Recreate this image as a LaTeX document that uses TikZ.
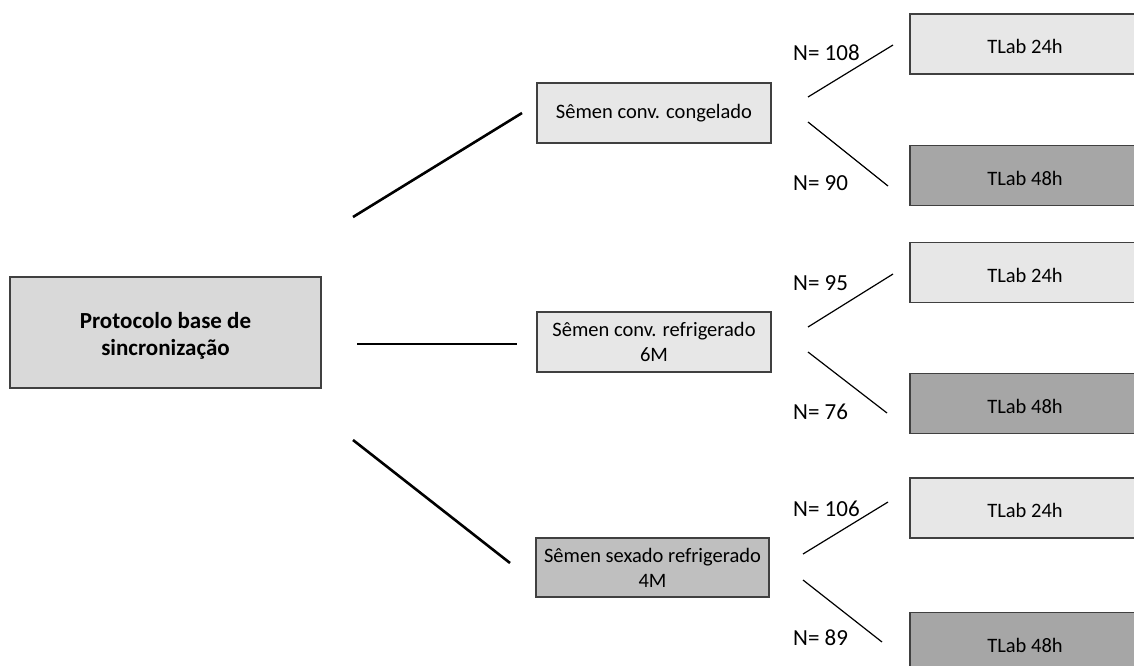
\documentclass[tikz,border=0pt]{standalone}
\usepackage{fontspec}
\setmainfont{Carlito}
\usepackage{xcolor}
\usetikzlibrary{positioning}

\definecolor{boxline}{HTML}{404040}
\definecolor{protofill}{HTML}{D9D9D9}
\definecolor{lightfill}{HTML}{E7E7E7}
\definecolor{midfill}{HTML}{BFBFBF}
\definecolor{darkfill}{HTML}{A6A6A6}

\begin{document}
\begin{tikzpicture}[x=1pt,y=-1pt,
		box/.style={draw=boxline,line width=1.3pt,inner sep=0pt,align=center,font=\fontsize{20.5}{25}\selectfont},
		semenbox/.style={box,minimum width=234pt,minimum height=60pt},
		tlabbox/.style={box,minimum width=230pt,minimum height=60pt,text height=19pt,text depth=0pt},
		thickline/.style={line width=2.6pt},
		thinline/.style={line width=1.2pt},
		nlabel/.style={anchor=west,inner sep=0pt,font=\fontsize{23}{27}\selectfont}]
		\useasboundingbox (0,0) rectangle (1134,665);
		\clip (0,0) rectangle (1134,665);
		
		% protocolo
		\node[box,fill=protofill,minimum width=311pt,minimum height=111pt,font=\fontsize{23}{27}\selectfont\bfseries] (proto) at (165.5,332.5) {};
		\node[inner sep=0pt,align=center,font=\fontsize{23}{27}\selectfont\bfseries] (prototxt) at (165.5,336) {Protocolo base de\\sincronização};
		
		% tipos de semen
		\node[semenbox,fill=lightfill] (congelado) at (654,113) {Sêmen conv. congelado};
		\node[semenbox,fill=lightfill] (refrig) at (654,342) {Sêmen conv. refrigerado\\6M};
		\node[semenbox,fill=midfill,minimum width=233pt,minimum height=59pt] (sexado) at (652.5,567.5) {Sêmen sexado refrigerado\\4M};
		
		% tlab
		\node[tlabbox,fill=lightfill] (tlab1) at (1025,44) {TLab 24h};
		\node[tlabbox,fill=darkfill] (tlab2) at (1025,175.5) {TLab 48h};
		\node[tlabbox,fill=lightfill] (tlab3) at (1025,272.5) {TLab 24h};
		\node[tlabbox,fill=darkfill] (tlab4) at (1025,403.5) {TLab 48h};
		\node[tlabbox,fill=lightfill] (tlab5) at (1025,508) {TLab 24h};
		\node[tlabbox,fill=darkfill] (tlab6) at (1025,642.5) {TLab 48h};
		
		% ramos grossos
		\coordinate (p1) at (353,217);
		\coordinate (q1) at (522,113);
		\coordinate (p2) at (357,344);
		\coordinate (q2) at (517,344);
		\coordinate (p3) at (353,440);
		\coordinate (q3) at (510,563);
		\draw[thickline] (p1) -- (q1);
		\draw[thickline] (p2) -- (q2);
		\draw[thickline] (p3) -- (q3);
		
		% ramos finos
		\coordinate (a1) at (808,97);
		\coordinate (b1) at (893,45);
		\coordinate (a2) at (808,122);
		\coordinate (b2) at (888,186);
		\coordinate (a3) at (808,327);
		\coordinate (b3) at (893,274);
		\coordinate (a4) at (808,352);
		\coordinate (b4) at (887,413);
		\coordinate (a5) at (803,554);
		\coordinate (b5) at (888,502);
		\coordinate (a6) at (803,580);
		\coordinate (b6) at (882,642);
		\foreach \i in {1,...,6}
		\draw[thinline] (a\i) -- (b\i);
		
		\node[nlabel] (n1) at (793,53) {N= 108};
		\node[nlabel] (n2) at (793,183) {N= 90};
		\node[nlabel] (n3) at (793,283) {N= 95};
		\node[nlabel] (n4) at (793,412) {N= 76};
		\node[nlabel] (n5) at (793,509) {N= 106};
		\node[nlabel] (n6) at (793,638) {N= 89};
\end{tikzpicture}
\end{document}
